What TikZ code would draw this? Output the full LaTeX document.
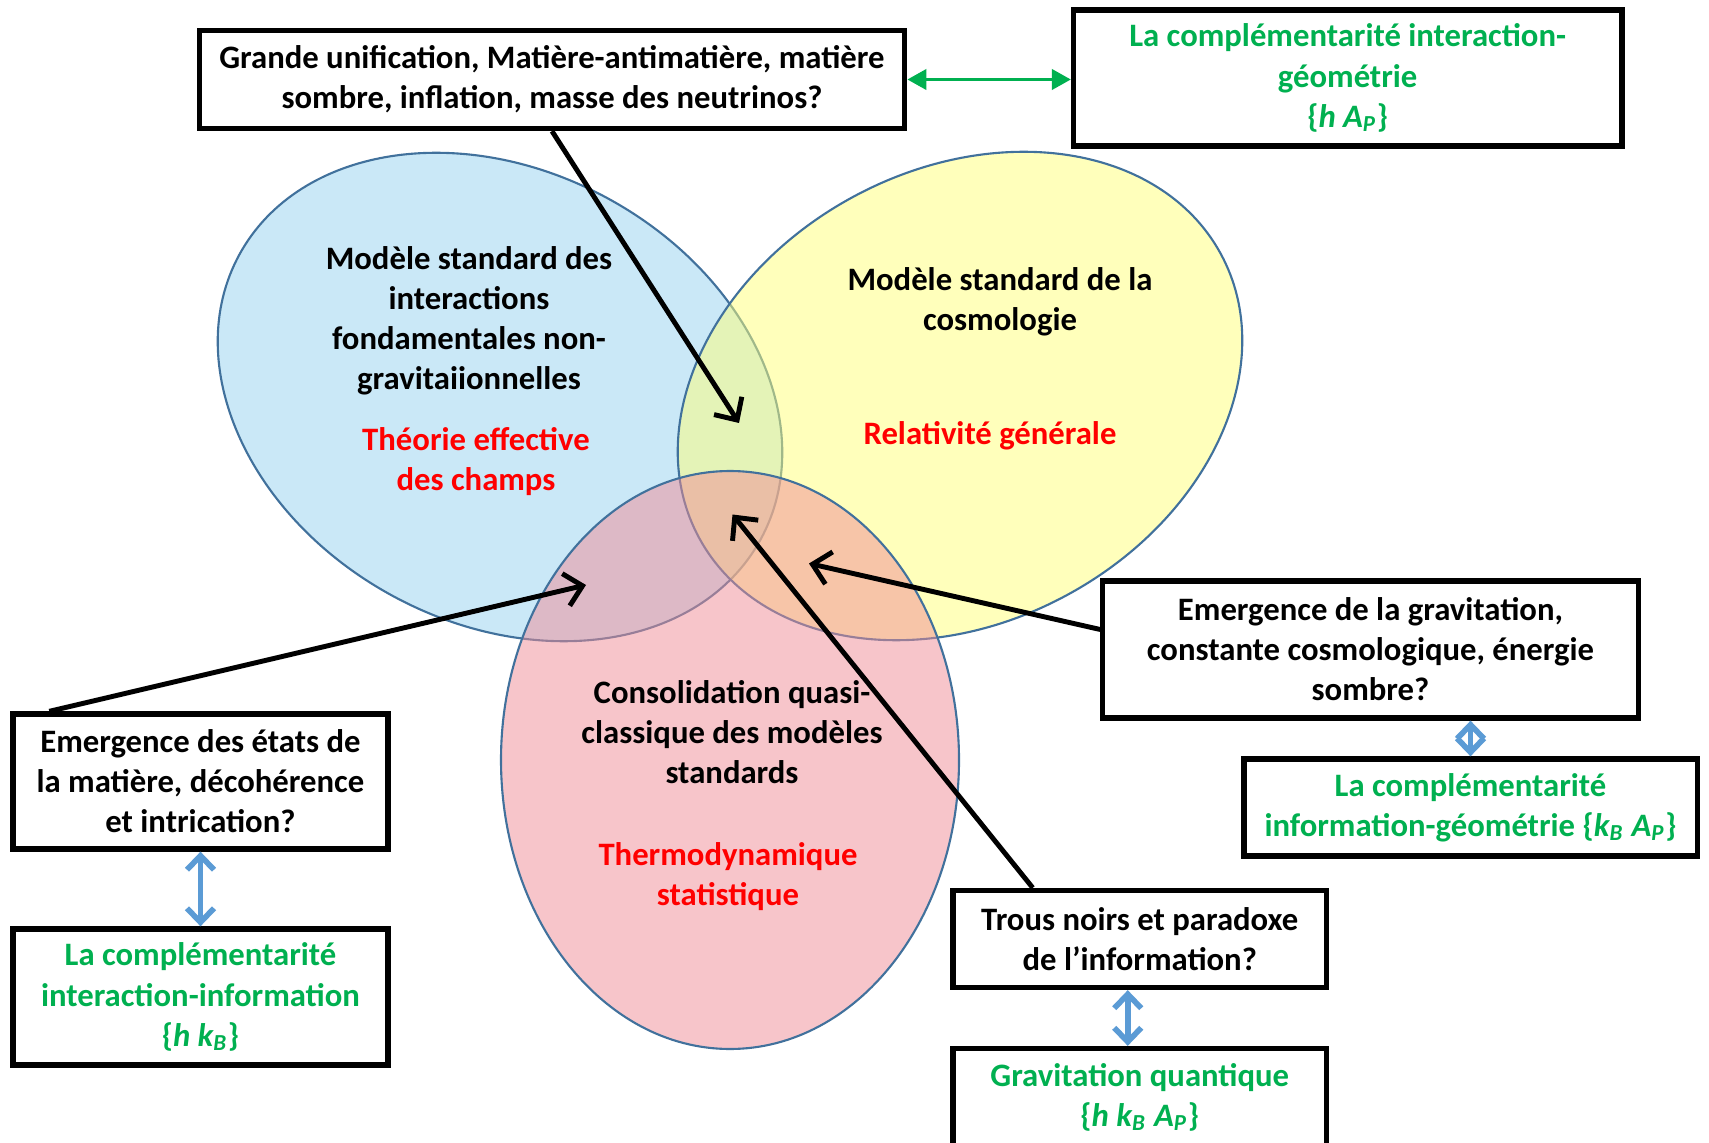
\documentclass[tikz,border=0pt]{standalone}
\usepackage{fontspec}
\setmainfont{Carlito}
\usetikzlibrary{arrows.meta,calc}
\definecolor{ogreen}{RGB}{0,176,80}
\definecolor{ored}{RGB}{255,0,0}
\definecolor{oblue}{RGB}{91,155,213}
\definecolor{eline}{RGB}{65,113,156}
\definecolor{efillb}{RGB}{150,210,240}
\definecolor{efilly}{RGB}{255,255,120}
\definecolor{efillr}{RGB}{240,140,150}
\begin{document}
\begin{tikzpicture}[x=0.01cm,y=-0.01cm,
  every node/.style={font=\bfseries\fontsize{9.3}{11.4}\selectfont, align=center, inner sep=0pt},
  box/.style={draw=black, line width=1.5pt, fill=white},
  venn/.style={draw=eline, line width=0.6pt, fill opacity=0.5},
  redtxt/.style={text=ored},
  greentxt/.style={text=ogreen},
  blackarrow/.style={draw=black, line width=1.4pt, -{Straight Barb[length=1.7mm,width=3.3mm,line width=1.4pt]}},
  bluearrow/.style={draw=oblue, line width=1.6pt, {Straight Barb[length=1.4mm,width=2.7mm,line width=1.6pt]}-{Straight Barb[length=1.4mm,width=2.7mm,line width=1.6pt]}},
  greenarrow/.style={draw=ogreen, line width=1.1pt, {Triangle[length=1.9mm,width=2.0mm]}-{Triangle[length=1.9mm,width=2.0mm]}}
]
\useasboundingbox[fill=white] (0,0) rectangle (1709,1143);

% Venn ellipses
\path[venn, fill=efillb, rotate around={-28.7:(500,397)}] (500,397) ellipse [x radius=297, y radius=226];
\path[venn, fill=efilly, rotate around={28.7:(960,396)}] (960,396) ellipse [x radius=297, y radius=226];
\path[venn, fill=efillr] (730,760) ellipse [x radius=229, y radius=289];

% ellipse texts
\node (msi) at (469,321) {Modèle standard des\\interactions\\fondamentales non-\\gravitaiionnelles};
\node[redtxt] (tec) at (476,462) {Théorie effective\\des champs};
\node (msc) at (1000,302) {Modèle standard de la\\cosmologie};
\node[redtxt] (rg) at (990,436) {Relativité générale};
\node (cqc) at (732,732) {Consolidation quasi-\\classique des modèles\\standards};
\node[redtxt] (ts) at (728,877) {Thermodynamique\\statistique};

% boxes
\node[box, minimum width=7.05cm, minimum height=0.98cm] (top) at (552,79.5) {Grande unification, Matière-antimatière, matière\\sombre, inflation, masse des neutrinos?};
\node[box, greentxt, minimum width=5.48cm, minimum height=1.36cm] (tr) at (1347.7,78) {La complémentarité interaction-\\géométrie\\\{\textit{h A\textsubscript{P}}\}};
\node[box, minimum width=5.35cm, minimum height=1.37cm] (rbox) at (1370.5,649.5) {Emergence de la gravitation,\\constante cosmologique, énergie\\sombre?};
\node[box, greentxt, minimum width=4.53cm, minimum height=0.97cm] (ig) at (1470.5,807.5) {La complémentarité\\information-géométrie \{\textit{k\textsubscript{B} A\textsubscript{P}}\}};
\node[box, minimum width=3.75cm, minimum height=1.35cm] (lbox) at (200.5,781.5) {Emergence des états de\\la matière, décohérence\\et intrication?};
\node[box, greentxt, minimum width=3.75cm, minimum height=1.36cm] (ii) at (200.5,997) {La complémentarité\\interaction-information\\\{\textit{h k\textsubscript{B}}\}};
\node[box, minimum width=3.735cm, minimum height=0.97cm] (tbox) at (1139.75,939) {Trous noirs et paradoxe\\de l’information?};
\node[box, greentxt, minimum width=3.735cm, minimum height=0.97cm] (gq) at (1139.75,1097) {Gravitation quantique\\\{\textit{h k\textsubscript{B} A\textsubscript{P}}\}};

% arrow targets
\coordinate (t1) at (739,423);
\coordinate (t2) at (586,585);
\coordinate (t3) at (809,563.5);
\coordinate (t4) at (732.5,514.5);

% black arrows
\draw[blackarrow] (top.south) -- (t1);
\draw[blackarrow] ($(lbox.north west)+(39,0)$) -- (t2);
\draw[blackarrow] ($(rbox.west)+(0,-20)$) -- (t3);
\draw[blackarrow] ($(tbox.north)+(-107,0)$) -- (t4);

% green arrow
\draw[greenarrow] (top.east) -- (top.east -| tr.west);

% blue arrows
\draw[bluearrow] (lbox.south) -- (ii.north);
\draw[bluearrow] (ig.north |- rbox.south) -- (ig.north);
\draw[bluearrow] ($(tbox.south)+(-12,0)$) -- ($(gq.north)+(-12,0)$);
\end{tikzpicture}
\end{document}
